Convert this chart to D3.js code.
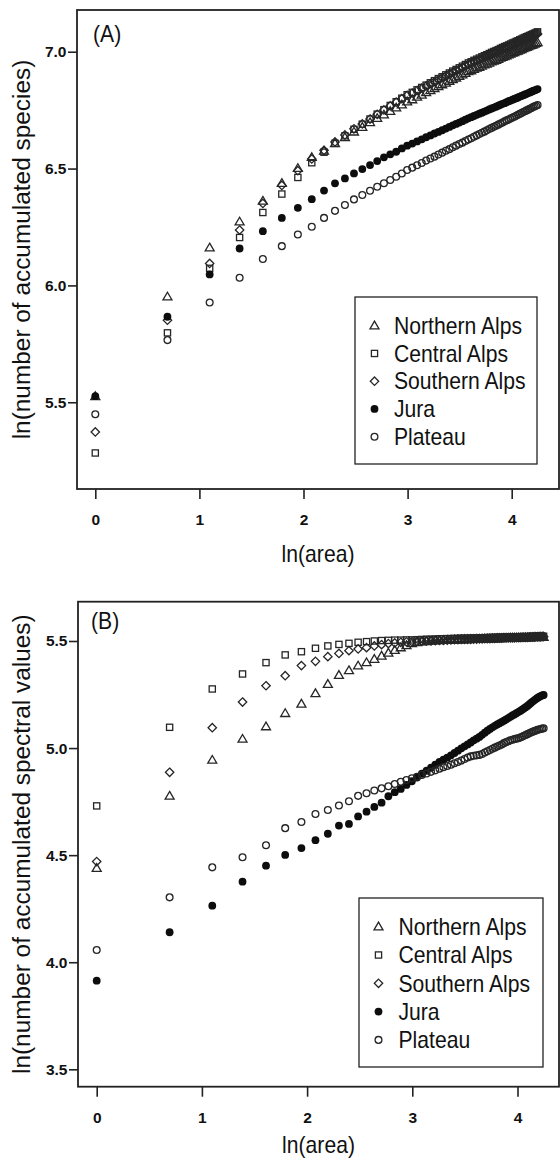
<!DOCTYPE html>
<html><head><meta charset="utf-8">
<script src="https://cdn.jsdelivr.net/npm/d3@7"></script>
<style>body{margin:0;background:#fff} svg{display:block}</style>
</head><body>
<svg id="c" width="560" height="1160"></svg>
<script>
// ---------- DATA ----------
const areas = [1,2,3,4,5,6,7,8,9,10,11,12,13,14,15,16,17,18,19,20,21,22,23,24,25,26,27,28,29,30,31,32,33,34,35,36,37,38,39,40,41,42,43,44,45,46,47,48,49,50,51,52,53,54,55,56,57,58,59,60,61,62,63,64,65,66,67,68,69,70];
const regions = ["Northern Alps", "Central Alps", "Southern Alps", "Jura", "Plateau"];
const xTicks = [0, 1, 2, 3, 4];
const yTicksA = [5.5, 6.0, 6.5, 7.0];
const yTicksB = [3.5, 4.0, 4.5, 5.0, 5.5];

// (A) ln(number of accumulated species)
const speciesNorthern = [5.525,5.951,6.161,6.272,6.361,6.437,6.501,6.548,6.575,6.607,6.633,6.657,6.677,6.697,6.715,6.730,6.745,6.760,6.773,6.786,
 6.795,6.806,6.815,6.825,6.834,6.843,6.851,6.859,6.866,6.874,6.881,6.888,6.895,6.901,6.908,6.915,6.919,6.925,6.930,6.934,6.939,6.944,6.947,6.952,6.957,6.960,6.964,6.968,6.973,6.976,6.980,6.983,6.987,6.990,6.994,6.997,7.001,7.003,7.007,7.010,7.014,7.017,7.019,7.022,7.025,7.028,7.030,7.033,7.036,7.039];
const speciesCentral = [5.283,5.797,6.073,6.205,6.312,6.391,6.462,6.525,6.570,6.608,6.640,6.668,6.690,6.712,6.733,6.752,6.770,6.786,6.801,6.816,
 6.826,6.837,6.847,6.857,6.867,6.876,6.885,6.893,6.901,6.909,6.917,6.924,6.931,6.938,6.945,6.952,6.957,6.963,6.968,6.973,6.978,6.983,6.987,6.992,6.997,7.001,7.005,7.009,7.014,7.018,7.022,7.025,7.029,7.033,7.037,7.040,7.044,7.047,7.051,7.054,7.058,7.061,7.064,7.067,7.070,7.073,7.076,7.079,7.082,7.085];
const speciesSouthern = [5.373,5.851,6.094,6.237,6.351,6.428,6.491,6.541,6.578,6.614,6.644,6.670,6.691,6.712,6.732,6.751,6.768,6.784,6.799,6.813,
 6.823,6.834,6.844,6.854,6.863,6.872,6.881,6.889,6.897,6.905,6.912,6.919,6.926,6.933,6.940,6.947,6.951,6.957,6.962,6.967,6.972,6.977,6.981,6.985,6.990,6.994,6.998,7.002,7.006,7.010,7.014,7.017,7.021,7.025,7.029,7.032,7.036,7.039,7.043,7.046,7.050,7.053,7.056,7.059,7.062,7.065,7.068,7.071,7.073,7.076];
const speciesJura = [5.526,5.866,6.047,6.158,6.232,6.289,6.332,6.369,6.406,6.437,6.458,6.479,6.498,6.515,6.532,6.548,6.561,6.572,6.586,6.598,
 6.607,6.616,6.625,6.634,6.642,6.650,6.657,6.664,6.671,6.678,6.685,6.691,6.697,6.703,6.709,6.715,6.720,6.725,6.730,6.735,6.739,6.744,6.748,6.753,6.757,6.761,6.765,6.769,6.773,6.777,6.780,6.784,6.788,6.791,6.795,6.798,6.801,6.804,6.808,6.811,6.814,6.817,6.820,6.823,6.826,6.829,6.832,6.835,6.837,6.840];
const speciesPlateau = [5.449,5.766,5.927,6.033,6.113,6.168,6.218,6.251,6.289,6.319,6.344,6.368,6.387,6.405,6.422,6.437,6.451,6.465,6.479,6.494,
 6.504,6.514,6.524,6.534,6.543,6.551,6.560,6.568,6.576,6.583,6.591,6.598,6.605,6.611,6.618,6.624,6.630,6.636,6.642,6.648,6.653,6.658,6.664,6.669,6.674,6.679,6.683,6.688,6.693,6.697,6.702,6.706,6.710,6.714,6.718,6.722,6.726,6.730,6.734,6.738,6.742,6.745,6.749,6.752,6.756,6.759,6.763,6.766,6.769,6.772];

// (B) ln(number of accumulated spectral values)
const spectralNorthern = [4.439,4.776,4.944,5.042,5.100,5.162,5.206,5.255,5.298,5.340,5.362,5.384,5.399,5.415,5.430,5.444,5.457,5.469,5.479,5.488,
 5.493,5.496,5.498,5.500,5.501,5.502,5.503,5.504,5.504,5.505,5.506,5.506,5.507,5.507,5.508,5.508,5.509,5.509,5.510,5.510,5.510,5.511,5.511,5.511,5.512,5.512,5.512,5.513,5.513,5.513,5.514,5.514,5.514,5.514,5.515,5.515,5.515,5.515,5.516,5.516,5.516,5.516,5.517,5.517,5.517,5.517,5.518,5.518,5.518,5.518];
const spectralCentral = [4.730,5.097,5.276,5.346,5.399,5.435,5.450,5.466,5.477,5.484,5.489,5.494,5.497,5.500,5.502,5.503,5.504,5.504,5.505,5.505,
 5.506,5.507,5.508,5.508,5.509,5.510,5.510,5.511,5.511,5.512,5.512,5.513,5.513,5.513,5.514,5.514,5.514,5.515,5.515,5.515,5.516,5.516,5.516,5.517,5.517,5.517,5.517,5.518,5.518,5.518,5.518,5.519,5.519,5.519,5.519,5.519,5.520,5.520,5.520,5.520,5.520,5.521,5.521,5.521,5.521,5.521,5.522,5.522,5.522,5.522];
const spectralSouthern = [4.470,4.887,5.095,5.215,5.291,5.338,5.385,5.405,5.427,5.442,5.455,5.463,5.469,5.477,5.483,5.488,5.491,5.494,5.496,5.497,
 5.498,5.499,5.500,5.501,5.502,5.503,5.503,5.504,5.505,5.506,5.506,5.507,5.507,5.508,5.508,5.509,5.509,5.510,5.510,5.511,5.511,5.511,5.512,5.512,5.513,5.513,5.513,5.514,5.514,5.514,5.515,5.515,5.515,5.516,5.516,5.516,5.517,5.517,5.517,5.517,5.518,5.518,5.518,5.518,5.519,5.519,5.519,5.519,5.520,5.520];
const spectralJura = [3.914,4.140,4.264,4.376,4.451,4.501,4.533,4.570,4.600,4.638,4.646,4.681,4.703,4.725,4.745,4.775,4.794,4.809,4.828,4.845,
 4.862,4.880,4.894,4.908,4.922,4.935,4.946,4.955,4.966,4.977,4.988,4.999,5.008,5.017,5.026,5.036,5.044,5.052,5.062,5.072,5.081,5.089,5.097,5.104,5.110,5.116,5.122,5.128,5.134,5.140,5.146,5.152,5.157,5.163,5.168,5.173,5.179,5.185,5.191,5.197,5.204,5.211,5.217,5.223,5.229,5.234,5.239,5.243,5.246,5.248];
const spectralPlateau = [4.057,4.303,4.443,4.490,4.546,4.626,4.655,4.692,4.711,4.732,4.752,4.777,4.789,4.802,4.812,4.822,4.832,4.843,4.851,4.859,
 4.866,4.874,4.881,4.889,4.896,4.904,4.911,4.916,4.922,4.929,4.935,4.942,4.949,4.956,4.961,4.964,4.966,4.968,4.972,4.979,4.985,4.991,4.997,5.002,5.007,5.012,5.017,5.023,5.028,5.032,5.036,5.039,5.042,5.044,5.046,5.049,5.053,5.057,5.061,5.065,5.069,5.073,5.076,5.079,5.082,5.085,5.087,5.089,5.091,5.092];

// ---------- DRAWING ----------
const svg = d3.select("#c");
const FONT = "'Liberation Sans', Arial, Helvetica, sans-serif";
const INK = "#222";
const MK = "#262626";
const shapes = ["triangle", "square", "diamond", "dot", "circle"];

function drawMarker(sel, shape) {
  if (shape === "triangle") {
    sel.append("path").attr("d", "M0,-4.6L4.5,3.1L-4.5,3.1Z").attr("fill", "none").attr("stroke", MK).attr("stroke-width", 1.3);
  } else if (shape === "square") {
    sel.append("rect").attr("x", -3.1).attr("y", -3.1).attr("width", 6.2).attr("height", 6.2).attr("fill", "none").attr("stroke", MK).attr("stroke-width", 1.3);
  } else if (shape === "diamond") {
    sel.append("path").attr("d", "M0,-4.2L4.2,0L0,4.2L-4.2,0Z").attr("fill", "none").attr("stroke", MK).attr("stroke-width", 1.3);
  } else if (shape === "dot") {
    sel.append("circle").attr("r", 3.9).attr("fill", "#0d0d0d");
  } else {
    sel.append("circle").attr("r", 3.4).attr("fill", "none").attr("stroke", MK).attr("stroke-width", 1.3);
  }
}

function drawPanel(cfg) {
  const g = svg.append("g");
  const x = d3.scaleLinear().domain(cfg.xDomain).range([cfg.left, cfg.right]);
  const y = d3.scaleLinear().domain(cfg.yDomain).range([cfg.bottom, cfg.top]);

  cfg.series.forEach((vals, i) => {
    const sg = g.append("g");
    vals.forEach((v, j) => {
      const m = sg.append("g").attr("transform", `translate(${x(Math.log(areas[j]))},${y(v)})`);
      drawMarker(m, shapes[i]);
    });
  });

  // frame
  g.append("rect").attr("x", cfg.left).attr("y", cfg.top)
    .attr("width", cfg.right - cfg.left).attr("height", cfg.bottom - cfg.top)
    .attr("fill", "none").attr("stroke", INK).attr("stroke-width", 1.8);

  // axes
  const ay = g.append("g").attr("transform", `translate(${cfg.left},0)`)
    .call(d3.axisLeft(y).tickValues(cfg.yTicks).tickFormat(d3.format(".1f")).tickSize(9).tickPadding(1.5));
  const ax = g.append("g").attr("transform", `translate(0,${cfg.bottom})`)
    .call(d3.axisBottom(x).tickValues(xTicks).tickFormat(d3.format("d")).tickSize(10).tickPadding(cfg.xPad));
  [ay, ax].forEach(a => {
    a.select(".domain").remove();
    a.selectAll(".tick line").attr("stroke", INK).attr("stroke-width", 1.6);
    a.selectAll(".tick text").attr("fill", "#111").attr("font-family", FONT)
      .attr("font-weight", "bold").attr("font-size", 15.5);
  });

  // panel letter
  g.append("text").attr("transform", `translate(${cfg.letterX},${cfg.letterY}) scale(0.92,1)`)
    .attr("font-family", FONT).attr("font-size", 23).attr("fill", "#111").text(cfg.letter);

  // axis titles
  g.append("text").attr("transform", `translate(${(cfg.left + cfg.right) / 2},${cfg.xTitleY}) scale(0.92,1)`)
    .attr("text-anchor", "middle").attr("font-family", FONT).attr("font-size", 23).attr("fill", "#111")
    .text("ln(area)");
  g.append("text").attr("transform", `translate(29.5,${(cfg.top + cfg.bottom) / 2}) rotate(-90)`)
    .attr("text-anchor", "middle").attr("font-family", FONT).attr("font-size", 24.4).attr("fill", "#111")
    .text(cfg.yTitle);

  // legend
  const L = cfg.legend;
  g.append("rect").attr("x", L.x0).attr("y", L.y0).attr("width", L.x1 - L.x0).attr("height", L.y1 - L.y0)
    .attr("fill", "#fff").attr("stroke", INK).attr("stroke-width", 1.3);
  regions.forEach((r, i) => {
    const cy = L.firstY + i * L.step;
    const m = g.append("g").attr("transform", `translate(${L.symX},${cy})`);
    drawMarker(m, shapes[i]);
    g.append("text").attr("transform", `translate(${L.textX},${cy + 8.2}) scale(0.92,1)`)
      .attr("font-family", FONT).attr("font-size", 23).attr("fill", "#111").text(r);
  });
}

drawPanel({
  left: 77, right: 559, top: 10, bottom: 489,
  xDomain: [(77 - 95.3) / 104.1, (559 - 95.3) / 104.1],
  yDomain: [5.5 - (489 - 402.3) / 233.6, 7.0 + (51.7 - 10) / 233.6],
  yTicks: yTicksA, xPad: 15,
  series: [speciesNorthern, speciesCentral, speciesSouthern, speciesJura, speciesPlateau],
  letter: "(A)", letterX: 93, letterY: 42,
  xTitleY: 562,
  yTitle: "ln(number of accumulated species)",
  legend: { x0: 355, x1: 537, y0: 297, y1: 464, firstY: 325.7, step: 27.75, symX: 374.5, textX: 394 }
});

drawPanel({
  left: 78, right: 559, top: 601.7, bottom: 1086.7,
  xDomain: [(78 - 96.7) / 105.2, (559 - 96.7) / 105.2],
  yDomain: [3.5 - (1086.7 - 1069.3) / 214.2, 5.5 + (641 - 601.7) / 214.2],
  yTicks: yTicksB, xPad: 15.6,
  series: [spectralNorthern, spectralCentral, spectralSouthern, spectralJura, spectralPlateau],
  letter: "(B)", letterX: 91, letterY: 629,
  xTitleY: 1153,
  yTitle: "ln(number of accumulated spectral values)",
  legend: { x0: 359, x1: 543, y0: 898, y1: 1067, firstY: 926.7, step: 28.3, symX: 378.5, textX: 398.5 }
});
</script>
</body></html>
